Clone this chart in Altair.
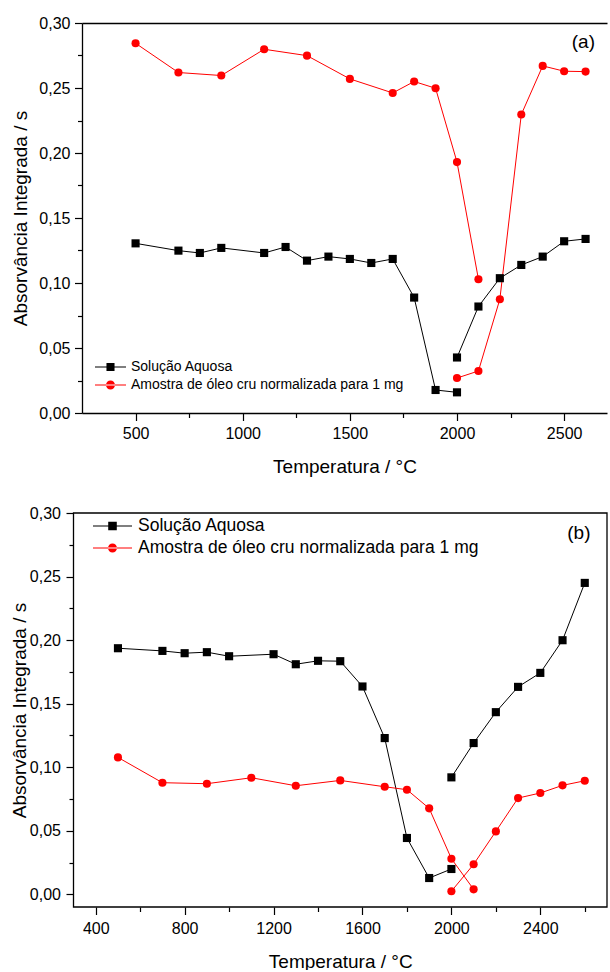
import altair as alt
import pandas as pd

FONT = "Liberation Sans"
SERIES = ["Solução Aquosa", "Amostra de óleo cru normalizada para 1 mg"]
COLORS = ["#000000", "#ff0000"]

# Panel (a): aqueous solution, two separate runs
a_aq_temp_1 = [500, 700, 800, 900, 1100, 1200, 1300, 1400, 1500, 1600, 1700, 1800, 1900, 2000]
a_aq_abs_1 = [0.1305, 0.1249, 0.1231, 0.1270, 0.1231, 0.1277, 0.1172, 0.1203, 0.1185, 0.1154, 0.1185, 0.0888, 0.0177, 0.0159]
a_aq_temp_2 = [2000, 2100, 2200, 2300, 2400, 2500, 2600]
a_aq_abs_2 = [0.0427, 0.0819, 0.1037, 0.1139, 0.1203, 0.1321, 0.1339]
# Panel (a): crude oil sample normalised to 1 mg
a_oil_temp_1 = [500, 700, 900, 1100, 1300, 1500, 1700, 1800, 1900, 2000, 2100]
a_oil_abs_1 = [0.2844, 0.2619, 0.2596, 0.2798, 0.2749, 0.2570, 0.2462, 0.2550, 0.2498, 0.1930, 0.1029]
a_oil_temp_2 = [2000, 2100, 2200, 2300, 2400, 2500, 2600]
a_oil_abs_2 = [0.0269, 0.0323, 0.0875, 0.2296, 0.2670, 0.2629, 0.2626]

# Panel (b): aqueous solution
b_aq_temp_1 = [500, 700, 800, 900, 1000, 1200, 1300, 1400, 1500, 1600, 1700, 1800, 1900, 2000]
b_aq_abs_1 = [0.1936, 0.1915, 0.1897, 0.1905, 0.1873, 0.1889, 0.1810, 0.1837, 0.1834, 0.1635, 0.1229, 0.0443, 0.0128, 0.0199]
b_aq_temp_2 = [2000, 2100, 2200, 2300, 2400, 2500, 2600]
b_aq_abs_2 = [0.0920, 0.1190, 0.1433, 0.1632, 0.1742, 0.1999, 0.2450]
# Panel (b): crude oil sample normalised to 1 mg
b_oil_temp_1 = [500, 700, 900, 1100, 1300, 1500, 1700, 1800, 1900, 2000, 2100]
b_oil_abs_1 = [0.1077, 0.0878, 0.0870, 0.0917, 0.0854, 0.0896, 0.0846, 0.0823, 0.0676, 0.0280, 0.0039]
b_oil_temp_2 = [2000, 2100, 2200, 2300, 2400, 2500, 2600]
b_oil_abs_2 = [0.0024, 0.0236, 0.0495, 0.0757, 0.0797, 0.0857, 0.0893]

# Axis ticks
a_x_major = [500, 1000, 1500, 2000, 2500]
a_x_minor = [750, 1250, 1750, 2250]
b_x_major = [400, 800, 1200, 1600, 2000, 2400]
b_x_minor = [600, 1000, 1400, 1800, 2200, 2600]
y_major = [0.0, 0.05, 0.10, 0.15, 0.20, 0.25, 0.30]
y_minor = [0.025, 0.075, 0.125, 0.175, 0.225, 0.275]


def glyph(half_line, half_sq, radius):
    """Legend glyphs (unit box): a thin bar with a square or a circle on it."""
    bar = f"M-1,-{half_line}H1V{half_line}H-1Z"
    square = f"M-{half_sq},-{half_sq}H{half_sq}V{half_sq}H-{half_sq}Z"
    circle = (f"M-{radius},0A{radius},{radius} 0 1,0 {radius},0"
              f"A{radius},{radius} 0 1,0 -{radius},0Z")
    return [bar + square, bar + circle]


def build_frame(parts):
    rows = []
    for serie, seg, temps, vals in parts:
        for t, v in zip(temps, vals):
            rows.append({"temp": t, "abs": v, "serie": serie, "seg": seg})
    return pd.DataFrame(rows)


COMMA = "replace(format(datum.value, '.2f'), '.', ',')"


def panel(df, tag, x_dom, y_dom, x_range, x_major, x_minor, w, h, y_shift, boxed,
          legend_x, legend_y, legend_font, glyph_size, glyphs, row_h, label_off,
          tag_dx, tag_dy, y_label_pad, y_title_pad, x_label_pad, x_title_pad):
    xs = alt.Scale(domain=x_dom, range=x_range, nice=False, zero=False)
    ys = alt.Scale(domain=y_dom, nice=False, zero=False)
    lines_on = not boxed

    x_axis = alt.Axis(values=x_major, format="d", tickSize=7.5, labelPadding=x_label_pad,
                      titlePadding=x_title_pad, domain=lines_on, grid=False,
                      title="Temperatura / °C")
    y_axis = alt.Axis(values=y_major, labelExpr=COMMA, tickSize=7.5, labelPadding=y_label_pad,
                      titlePadding=y_title_pad, offset=y_shift, domain=lines_on, grid=False,
                      title="Absorvância Integrada / s")
    x_minor_axis = alt.Axis(values=x_minor, orient="bottom", labels=False, tickSize=4.5,
                            domain=False, grid=False, title=None)
    y_minor_axis = alt.Axis(values=y_minor, orient="left", labels=False, tickSize=4.5,
                            offset=y_shift, domain=False, grid=False, title=None)
    top_edge = alt.Axis(orient="top", labels=False, ticks=False, domain=True,
                        grid=False, title=None)

    def xy(x_axis_def, y_axis_def, xf="temp", yf="abs"):
        return dict(x=alt.X(f"{xf}:Q", scale=xs, axis=x_axis_def),
                    y=alt.Y(f"{yf}:Q", scale=ys, axis=y_axis_def))

    base = alt.Chart(df)
    aq = base.transform_filter(alt.datum.serie == SERIES[0])
    oil = base.transform_filter(alt.datum.serie == SERIES[1])

    aq_line = aq.mark_line(strokeWidth=1, color=COLORS[0]).encode(
        **xy(x_axis, y_axis), detail="seg:N", order="temp:Q")
    oil_line = oil.mark_line(strokeWidth=1, color=COLORS[1]).encode(
        **xy(None, None), detail="seg:N", order="temp:Q")
    aq_pts = aq.mark_square(size=66, color=COLORS[0], opacity=1).encode(**xy(None, None))
    oil_pts = oil.mark_circle(size=66, color=COLORS[1], opacity=1).encode(**xy(None, None))

    legend = alt.Legend(title=None, orient="none", legendX=legend_x, legendY=legend_y,
                        labelFontSize=legend_font, labelLimit=600, labelOffset=label_off,
                        symbolOpacity=1, symbolStrokeWidth=0, symbolSize=glyph_size,
                        clipHeight=row_h, padding=0, rowPadding=0)
    keys = base.mark_point(filled=True, opacity=0).encode(
        **xy(x_minor_axis, y_minor_axis),
        color=alt.Color("serie:N", scale=alt.Scale(domain=SERIES, range=COLORS), legend=legend),
        shape=alt.Shape("serie:N", scale=alt.Scale(domain=SERIES, range=glyphs), legend=legend),
    )

    tag_df = pd.DataFrame({"x": [x_dom[1]], "y": [y_dom[1]], "t": [tag]})
    label = alt.Chart(tag_df).mark_text(align="right", baseline="middle", fontSize=19,
                                        dx=tag_dx, dy=tag_dy, color="black").encode(
        x=alt.X("x:Q", scale=xs, axis=None if boxed else top_edge),
        y=alt.Y("y:Q", scale=ys, axis=None), text="t:N")

    layers = [aq_line, oil_line, aq_pts, oil_pts, keys, label]
    if boxed:
        # closed frame over the full scale domains
        box_df = pd.DataFrame({"x0": [x_dom[0]], "x1": [x_dom[1]],
                               "y0": [y_dom[0]], "y1": [y_dom[1]]})
        layers.append(alt.Chart(box_df).mark_rect(
            fillOpacity=0, stroke="black", strokeWidth=1.3).encode(
            x=alt.X("x0:Q", scale=xs, axis=None), x2="x1:Q",
            y=alt.Y("y0:Q", scale=ys, axis=None), y2="y1:Q"))

    return alt.layer(*layers).resolve_axis(
        x="independent", y="independent"
    ).properties(width=w, height=h)


df_a = build_frame([
    (SERIES[0], "a1", a_aq_temp_1, a_aq_abs_1),
    (SERIES[0], "a2", a_aq_temp_2, a_aq_abs_2),
    (SERIES[1], "o1", a_oil_temp_1, a_oil_abs_1),
    (SERIES[1], "o2", a_oil_temp_2, a_oil_abs_2),
])
df_b = build_frame([
    (SERIES[0], "a1", b_aq_temp_1, b_aq_abs_1),
    (SERIES[0], "a2", b_aq_temp_2, b_aq_abs_2),
    (SERIES[1], "o1", b_oil_temp_1, b_oil_abs_1),
    (SERIES[1], "o2", b_oil_temp_2, b_oil_abs_2),
])

top = panel(df_a, "(a)", [250, 2700], [0.0, 0.30], [0, 525], a_x_major, a_x_minor, 525, 390,
            y_shift=0, boxed=False, legend_x=13, legend_y=335, legend_font=14,
            glyph_size=961, glyphs=glyph(0.032, 0.26, 0.29), row_h=18, label_off=5,
            tag_dx=-12, tag_dy=18.5, y_label_pad=4.5, y_title_pad=8, x_label_pad=5,
            x_title_pad=16)
bottom = panel(df_b, "(b)", [300, 2700], [-0.01, 0.30], [-8.5, 525], b_x_major, b_x_minor,
               525, 394, y_shift=8.5, boxed=True, legend_x=11, legend_y=2, legend_font=17.5,
               glyph_size=1521, glyphs=glyph(0.026, 0.22, 0.23), row_h=22, label_off=6,
               tag_dx=-16.5, tag_dy=20, y_label_pad=5.5, y_title_pad=0, x_label_pad=5.5,
               x_title_pad=16)

chart = alt.concat(top, bottom, columns=1, spacing=28).resolve_scale(
    color="independent", shape="independent"
).resolve_legend(
    color="independent", shape="independent"
).properties(
    padding={"left": 10, "top": 15, "right": -7, "bottom": -1},
).configure(font=FONT).configure_view(
    strokeOpacity=0
).configure_axis(
    domainColor="black", domainWidth=1.3,
    tickColor="black", tickWidth=1.2, labelColor="black", titleColor="black",
    labelFont=FONT, titleFont=FONT, titleFontWeight="normal",
    labelFontSize=16, titleFontSize=19,
).configure_legend(
    labelFont=FONT, labelColor="black"
)

chart.save("out.html", embed_options={"renderer": "svg", "actions": False})
